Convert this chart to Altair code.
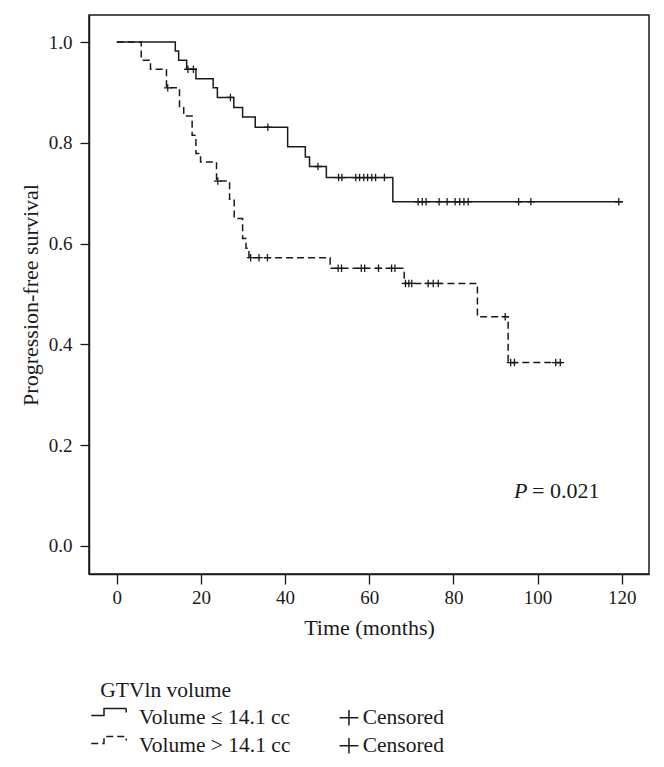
import altair as alt
import pandas as pd

# ---- data (time in months, survival proportion) ----
solid_t = [0, 13.9, 14.7, 16.6, 18.8, 22.9, 23.9, 27.8, 29.9, 32.9, 40.6, 44.8, 45.8, 49.8, 65.6]
solid_s = [1.0, 0.982, 0.964, 0.946, 0.927, 0.909, 0.890, 0.870, 0.851, 0.831, 0.792, 0.772, 0.753, 0.731, 0.683]
solid_end = 120.3
solid_cens = [16.9, 18.2, 27.0, 35.9, 47.8, 52.7, 53.5, 56.8, 57.7, 58.7, 59.6, 60.6, 61.5, 63.6,
              71.6, 72.6, 73.5, 76.6, 78.5, 80.4, 81.5, 82.5, 83.5, 95.5, 98.4, 119.3]

dashed_t = [0, 5.8, 8.0, 11.8, 14.9, 15.9, 17.9, 18.8, 19.9, 23.7, 26.8, 27.9, 29.9, 30.7, 31.4,
            50.7, 68.3, 85.7, 93.0]
dashed_s = [1.0, 0.964, 0.946, 0.909, 0.872, 0.853, 0.815, 0.779, 0.762, 0.724, 0.688, 0.650, 0.610,
            0.591, 0.572, 0.551, 0.521, 0.455, 0.364]
dashed_end = 105.9
dashed_cens = [12.1, 24.0, 31.8, 33.8, 35.8, 52.6, 53.4, 58.1, 58.9, 62.2, 65.3, 66.1, 68.6, 69.4,
               70.1, 74.0, 75.2, 76.4, 92.3, 93.6, 94.5, 104.3, 105.4]

group_names = ["Volume \u2264 14.1 cc", "Volume > 14.1 cc"]
censor_labels = ["Censored", "Censored "]
x_ticks = [0, 20, 40, 60, 80, 100, 120]
y_ticks = [0.0, 0.2, 0.4, 0.6, 0.8, 1.0]
p_texts = ["P", "= 0.021"]
p_t = [94.4, 98.7]
p_s = [0.109, 0.109]
legend_title = "GTVln volume"


def step_rows(ts, ss, end, g):
    rows = [{"t": t, "s": s, "g": g} for t, s in zip(ts, ss)]
    rows.append({"t": end, "s": ss[-1], "g": g})
    return rows


def level_at(ts, ss, c):
    v = ss[0]
    for t, s in zip(ts, ss):
        if t <= c:
            v = s
    return v


lines_df = pd.DataFrame(step_rows(solid_t, solid_s, solid_end, group_names[0])
                        + step_rows(dashed_t, dashed_s, dashed_end, group_names[1]))
cens_df = pd.DataFrame(
    [{"t": c, "s": level_at(solid_t, solid_s, c), "g": group_names[0]} for c in solid_cens]
    + [{"t": c, "s": level_at(dashed_t, dashed_s, c), "g": group_names[1]} for c in dashed_cens]
)
dummy_df = pd.DataFrame({"lab": censor_labels, "t": [0, 0], "s": [0, 0]})
ptxt_df = pd.DataFrame({"txt": p_texts, "t": p_t, "s": p_s})

FONT = "Liberation Serif"
INK = "#1a1a1a"
STEP_PATH = "M-2,-0.2L-0.725,-0.2L-0.725,-0.9L1.5,-0.9L1.5,-0.5"
CROSS_PATH = "M-1,0L1,0M0,-1L0,1"
LEG_CROSS = "M-1.1,0L1.1,0M0,-0.9L0,0.9"

x_scale = alt.Scale(domain=[-6.61, 126.48], nice=False, zero=False)
y_scale = alt.Scale(domain=[-0.0556, 1.0536], nice=False, zero=False)

x_enc = alt.X("t:Q", scale=x_scale,
              axis=alt.Axis(values=x_ticks, title="Time (months)", tickSize=10,
                            labelPadding=4, titlePadding=10, format="d"))
y_enc = alt.Y("s:Q", scale=y_scale,
              axis=alt.Axis(values=y_ticks, format=".1f", title="Progression-free survival",
                            tickSize=9, labelPadding=8, titlePadding=6))

lines = alt.Chart(lines_df).mark_line(
    interpolate="step-after", color=INK, strokeWidth=1.5
).encode(
    x=x_enc,
    y=y_enc,
    strokeDash=alt.StrokeDash(
        "g:N",
        scale=alt.Scale(domain=group_names, range=[[1, 0], [7, 4]]),
        legend=alt.Legend(
            title="\u00a0" * 7 + legend_title,
            orient="none", legendX=11.25, legendY=665, direction="vertical",
            symbolType=STEP_PATH, symbolSize=400, symbolStrokeColor=INK,
            symbolStrokeWidth=1.5, symbolFillColor="transparent",
            labelOffset=16.75, titlePadding=5, rowPadding=5, padding=0,
        ),
    ),
)

cens = alt.Chart(cens_df).mark_point(
    shape=CROSS_PATH, size=56, filled=False, color=INK, strokeWidth=1.3, opacity=1
).encode(x="t:Q", y="s:Q")

dummy = alt.Chart(dummy_df).mark_point(filled=False, opacity=0, color=INK).encode(
    x="t:Q", y="s:Q",
    shape=alt.Shape(
        "lab:N",
        scale=alt.Scale(domain=censor_labels, range=[LEG_CROSS, LEG_CROSS]),
        legend=alt.Legend(
            title=None, orient="none", legendX=249.2, legendY=692, direction="vertical",
            symbolSize=289, symbolStrokeColor=INK, symbolStrokeWidth=1.5,
            symbolFillColor="transparent", symbolOpacity=1,
            labelOffset=3, rowPadding=5, padding=0,
        ),
    ),
)

p_italic = alt.Chart(ptxt_df).transform_filter(alt.datum.txt == "P").mark_text(
    font=FONT, fontSize=22, fontStyle="italic", align="left", baseline="middle", color=INK
).encode(x="t:Q", y="s:Q", text="txt:N")

p_rest = alt.Chart(ptxt_df).transform_filter(alt.datum.txt != "P").mark_text(
    font=FONT, fontSize=22, align="left", baseline="middle", color=INK
).encode(x="t:Q", y="s:Q", text="txt:N")

chart = alt.layer(lines, cens, dummy, p_italic, p_rest).properties(
    width=560, height=559,
    padding={"left": 81, "top": 7, "right": 7, "bottom": 185},
    autosize=alt.AutoSizeParams(type="none"),
).configure_view(
    stroke=INK, strokeWidth=1.5
).configure_axis(
    grid=False, domainColor=INK, domainWidth=1.5, tickColor=INK, tickWidth=1.3,
    labelFont=FONT, labelFontSize=19, labelColor=INK,
    titleFont=FONT, titleFontSize=22, titleFontWeight="normal", titleColor=INK,
).configure_legend(
    labelFont=FONT, labelFontSize=21.5, labelColor=INK,
    titleFont=FONT, titleFontSize=21.5, titleFontWeight="normal", titleColor=INK,
    labelLimit=400, titleLimit=400,
)

chart.save("out.html", embed_options={"renderer": "svg", "actions": False})
